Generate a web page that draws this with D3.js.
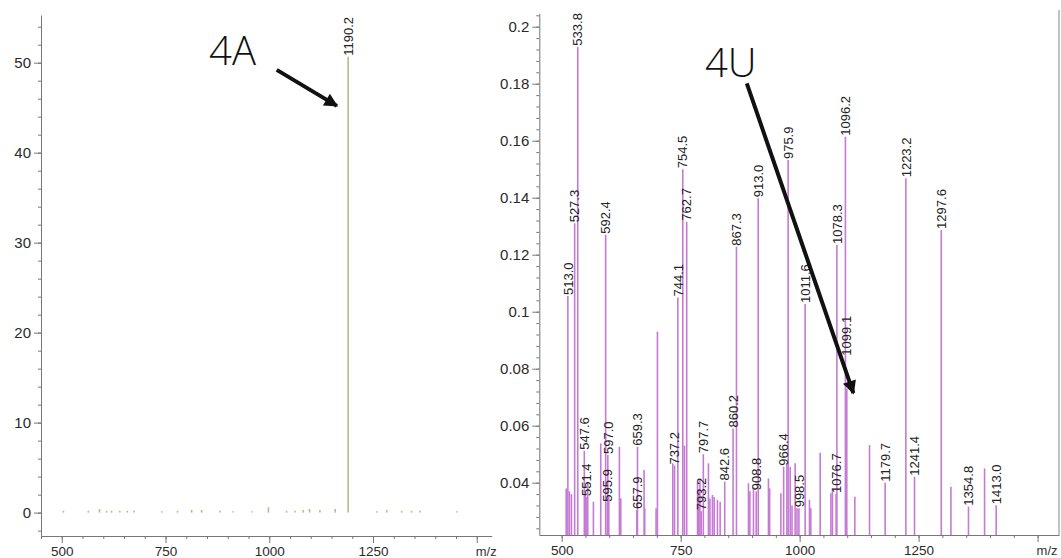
<!DOCTYPE html>
<html>
<head>
<meta charset="utf-8">
<script src="https://cdn.jsdelivr.net/npm/d3@7"></script>
<style>
  body { margin: 0; background: #fff; }
  svg { display: block; font-family: "Liberation Sans", Arial, sans-serif; }
  .axis path, .axis line { stroke: #777; }
  .axis text { fill: #2a2a2a; }
</style>
</head>
<body>
<svg id="chart" width="1061" height="558"></svg>
<script>
// left spectrum (4A)
var leftMz  = [504, 564, 591, 608, 620, 640, 658, 674, 741, 779, 813, 837, 881, 913, 958, 998, 1042, 1062, 1082, 1097, 1122, 1159, 1190.2, 1259, 1283, 1319, 1343, 1363, 1452];
var leftInt = [0.2, 0.2, 0.4, 0.2, 0.2, 0.2, 0.2, 0.2, 0.15, 0.2, 0.3, 0.3, 0.2, 0.15, 0.15, 0.6, 0.2, 0.2, 0.3, 0.4, 0.3, 0.4, 50.66, 0.15, 0.3, 0.2, 0.2, 0.2, 0.15];
var leftLabeled = [1190.2];
var leftYTicks = [0, 10, 20, 30, 40, 50];
var xTicks = [500, 750, 1000, 1250];

// right spectrum (4U)
var rightMz = [509.5, 513.0, 516.2, 520.5, 527.3, 533.8, 547.6, 549.5, 551.4, 554.8, 566.7, 582.1, 592.4, 595.9, 597.0, 599.0,
  621.3, 624.2, 657.9, 659.3, 673.2, 674.5, 698.4, 701.2, 733.5, 737.2, 744.1, 754.5, 758.0, 762.7,
  785.5, 788.0, 790.5, 793.2, 797.7, 808.4, 811.5, 816.8, 820.5, 827.3, 833.0, 842.6, 860.2, 867.3,
  892.5, 895.5, 903.0, 908.8, 913.0, 934.5, 937.0, 960.6, 966.4, 973.2, 975.9, 980.2, 984.0, 990.6, 994.5, 998.5,
  1011.6, 1020.7, 1023.5, 1043.2, 1065.7, 1069.0, 1076.7, 1078.3, 1096.2, 1099.1, 1116.0, 1146.9, 1179.7,
  1223.2, 1241.4, 1297.6, 1317.9, 1354.8, 1388.6, 1413.0];
var rightInt = [0.038, 0.1055, 0.037, 0.036, 0.131, 0.193, 0.0512, 0.036, 0.035, 0.040, 0.0333, 0.0538, 0.127, 0.033, 0.0497, 0.035,
  0.0526, 0.0345, 0.0304, 0.0526, 0.0445, 0.031, 0.031, 0.093, 0.0468, 0.046, 0.105, 0.150, 0.053, 0.1316,
  0.040, 0.037, 0.041, 0.030, 0.050, 0.0468, 0.0345, 0.0357, 0.035, 0.034, 0.0333, 0.0404, 0.059, 0.1228,
  0.0398, 0.037, 0.0384, 0.037, 0.1398, 0.0415, 0.038, 0.0363, 0.0456, 0.0462, 0.1532, 0.0456, 0.032, 0.0468, 0.031, 0.031,
  0.1027, 0.034, 0.031, 0.0505, 0.0363, 0.038, 0.036, 0.1234, 0.1614, 0.073, 0.0351, 0.0532, 0.040,
  0.1468, 0.0421, 0.1287, 0.0386, 0.0316, 0.045, 0.0321];
var rightLabeled = [513.0, 527.3, 533.8, 547.6, 551.4, 592.4, 595.9, 597.0, 657.9, 659.3, 737.2, 744.1, 754.5, 762.7,
  793.2, 797.7, 842.6, 860.2, 867.3, 908.8, 913.0, 966.4, 975.9, 998.5, 1011.6, 1076.7, 1078.3, 1096.2, 1099.1,
  1179.7, 1223.2, 1241.4, 1297.6, 1354.8, 1413.0];
var rightYTicks = [0.04, 0.06, 0.08, 0.1, 0.12, 0.14, 0.16, 0.18, 0.2];

// annotations in data coordinates: text position, arrow start, arrow tip
var notes = [
  {panel: "left",  text: "4A", tx: 855, ty: 49.7, x1: 1018, y1: 49.2, x2: 1163, y2: 45.2},
  {panel: "right", text: "4U", tx: 801, ty: 0.1823, x1: 889, y1: 0.1801, x2: 1113, y2: 0.0714}
];

var svg = d3.select("#chart");

var panels = {
  left: {
    x: d3.scaleLinear().domain([450, 1536]).range([41, 491.7]),
    y: d3.scaleLinear().domain([-2.6, 55.3]).range([536, 15]),
    mz: leftMz, val: leftInt, labeled: leftLabeled, yTicks: leftYTicks,
    yMinor: d3.range(-2, 55, 2), xMinor: d3.range(450, 1501, 50),
    color: "#b9bb8a", fmt: function(d) { return d; }
  },
  right: {
    x: d3.scaleLinear().domain([453, 1545]).range([539.3, 1059]),
    y: d3.scaleLinear().domain([0.02165, 0.2047]).range([535, 13.3]),
    mz: rightMz, val: rightInt, labeled: rightLabeled, yTicks: rightYTicks,
    yMinor: d3.range(0.024, 0.2041, 0.004), xMinor: d3.range(500, 1501, 50),
    color: "#c57bd3", fmt: function(d) { return String(+d.toFixed(2)); }
  }
};

// labels pushed up a little where the arrow crosses them (px)
var labelLift = {"1099.1": 32};

function drawPanel(p, name) {
  var x = p.x, y = p.y;
  var bottom = y.range()[0], left = x.range()[0];

  var g = svg.append("g").attr("class", name);

  // minor ticks
  g.append("g").attr("class", "axis")
      .attr("transform", "translate(0," + bottom + ")")
      .call(d3.axisBottom(x).tickValues(p.xMinor).tickSize(3).tickFormat(""))
      .call(function(s) { s.select(".domain").remove(); });
  g.append("g").attr("class", "axis")
      .attr("transform", "translate(" + left + ",0)")
      .call(d3.axisLeft(y).tickValues(p.yMinor).tickSize(3).tickFormat(""))
      .call(function(s) { s.select(".domain").remove(); });

  // major ticks
  g.append("g").attr("class", "axis")
      .attr("transform", "translate(0," + bottom + ")")
      .call(d3.axisBottom(x).tickValues(xTicks.concat([1500])).tickSize(7).tickSizeOuter(0).tickPadding(3)
        .tickFormat(function(d) { return d === 1500 ? "" : d; }))
      .selectAll("text").attr("font-size", 13.5);
  g.append("g").attr("class", "axis")
      .attr("transform", "translate(" + left + ",0)")
      .call(d3.axisLeft(y).tickValues(p.yTicks).tickSize(7).tickSizeOuter(0).tickPadding(3).tickFormat(p.fmt))
      .selectAll("text").attr("font-size", 15);

  g.append("text")
      .attr("x", x(1500) - 1)
      .attr("y", bottom + 20)
      .attr("fill", "#333")
      .attr("font-size", 13)
      .text("m/z");

  var peaks = p.mz.map(function(m, i) { return {mz: m, v: p.val[i]}; });

  g.append("g").selectAll("line")
    .data(peaks)
    .enter().append("line")
      .attr("x1", function(d) { return x(d.mz); })
      .attr("x2", function(d) { return x(d.mz); })
      .attr("y1", function(d) { return name === "left" ? y(0) : bottom; })
      .attr("y2", function(d) { return y(d.v); })
      .attr("stroke", p.color)
      .attr("stroke-width", 1.6);

  g.append("g").selectAll("text")
    .data(peaks.filter(function(d) { return p.labeled.indexOf(d.mz) >= 0; }))
    .enter().append("text")
      .attr("transform", function(d) {
        var lift = labelLift[d.mz.toFixed(1)] || 0;
        return "translate(" + x(d.mz) + "," + (y(d.v) - 1 - lift) + ") rotate(-90)";
      })
      .attr("dy", "0.36em")
      .attr("font-size", 13)
      .attr("fill", "#222")
      .text(function(d) { return d.mz.toFixed(1); });
}

drawPanel(panels.left, "left");
drawPanel(panels.right, "right");

// right frame line
svg.append("line")
    .attr("x1", panels.right.x.range()[1]).attr("x2", panels.right.x.range()[1])
    .attr("y1", 10).attr("y2", panels.right.y.range()[0])
    .attr("stroke", "#999").attr("stroke-width", 1.2);

// annotations
svg.append("defs").append("marker")
    .attr("id", "head")
    .attr("viewBox", "0 0 10 10")
    .attr("refX", 9).attr("refY", 5)
    .attr("markerWidth", 4.2).attr("markerHeight", 3.4)
    .attr("markerUnits", "strokeWidth")
    .attr("orient", "auto")
  .append("path")
    .attr("d", "M0,0L10,5L0,10Z")
    .attr("fill", "#111");

notes.forEach(function(n) {
  var p = panels[n.panel];
  svg.append("text")
      .attr("x", p.x(n.tx)).attr("y", p.y(n.ty))
      .attr("font-family", "'Open Sans', 'Liberation Sans', sans-serif")
      .attr("font-weight", 300)
      .attr("font-size", 40)
      .attr("fill", "#111")
      .text(n.text);
  svg.append("line")
      .attr("x1", p.x(n.x1)).attr("y1", p.y(n.y1))
      .attr("x2", p.x(n.x2)).attr("y2", p.y(n.y2))
      .attr("stroke", "#111")
      .attr("stroke-width", 4)
      .attr("marker-end", "url(#head)");
});
</script>
</body>
</html>
